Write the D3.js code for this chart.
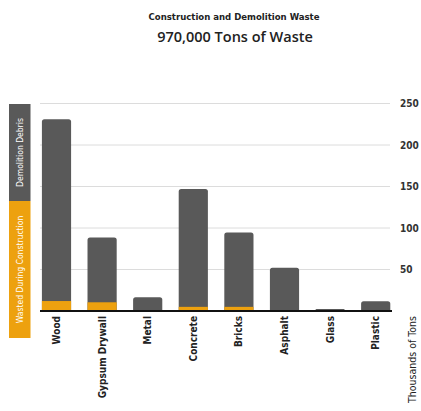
<!DOCTYPE html>
<html>
<head>
<meta charset="utf-8">
<script src="https://cdn.jsdelivr.net/npm/d3@7"></script>
<style>
body{margin:0;background:#fff;}
svg{display:block;font-family:"DejaVu Sans Condensed","Open Sans",sans-serif;}
</style>
</head>
<body>
<svg id="viz" width="421" height="411"></svg>
<script>
var categories = ["Wood","Gypsum Drywall","Metal","Concrete","Bricks","Asphalt","Glass","Plastic"];
var demolition = [219, 78, 16.5, 142, 89.5, 52, 2.5, 11.7];
var construction = [12, 10.5, 0, 5, 5, 0, 0, 0];
var ticks = [50, 100, 150, 200, 250];
var legendLabels = ["Demolition Debris","Wasted During Construction"];

var grey = "#595959", orange = "#eda10f";

var svg = d3.select("#viz");

var x = d3.scaleBand()
	.domain(categories)
	.range([33.7, 398.5])
	.paddingInner(0.36)
	.paddingOuter(0.18);
var y = d3.scaleLinear()
	.domain([0, 250])
	.range([311, 103.5]);

// titles
svg.append("text")
	.attr("x", 234).attr("y", 20)
	.attr("text-anchor", "middle")
	.attr("font-size", 9.5).attr("font-weight", "bold")
	.attr("fill", "#222")
	.text("Construction and Demolition Waste");
svg.append("text")
	.attr("x", 235).attr("y", 42)
	.attr("text-anchor", "middle")
	.attr("font-size", 14.5).attr("font-weight", 600)
	.attr("font-family", "'Open Sans',sans-serif")
	.attr("fill", "#222")
	.text("970,000 Tons of Waste");

// gridlines
svg.append("g")
	.selectAll("line")
	.data(ticks)
	.enter().append("line")
	.attr("x1", 40).attr("x2", 390)
	.attr("y1", function(d){ return y(d); })
	.attr("y2", function(d){ return y(d); })
	.attr("stroke", "#dcdcdc").attr("stroke-width", 1);
svg.append("g")
	.selectAll("text")
	.data(ticks)
	.enter().append("text")
	.attr("x", 400)
	.attr("y", function(d){ return y(d) + 3.5; })
	.attr("font-size", 10).attr("font-weight", "bold")
	.attr("fill", "#333")
	.text(function(d){ return d; });

// bars
var data = categories.map(function(c, i){
	return {cat: c, c: construction[i], total: construction[i] + demolition[i]};
});
var bars = svg.append("g").selectAll("g").data(data).enter().append("g");
bars.append("path")
	.attr("fill", grey)
	.attr("d", function(d){
		var x0 = x(d.cat), w = x.bandwidth(), top = y(d.total), bot = y(0);
		var r = Math.min(2.5, (bot - top) / 2);
		return "M" + x0 + "," + bot + "V" + (top + r) + "Q" + x0 + "," + top + " " + (x0 + r) + "," + top +
			"H" + (x0 + w - r) + "Q" + (x0 + w) + "," + top + " " + (x0 + w) + "," + (top + r) + "V" + bot + "Z";
	});
bars.filter(function(d){ return d.c > 0; }).append("rect")
	.attr("fill", orange)
	.attr("x", function(d){ return x(d.cat); })
	.attr("width", x.bandwidth())
	.attr("y", function(d){ return y(d.c); })
	.attr("height", function(d){ return y(0) - y(d.c); });

// baseline
svg.append("line")
	.attr("x1", 40).attr("x2", 392)
	.attr("y1", y(0)).attr("y2", y(0))
	.attr("stroke", "#111").attr("stroke-width", 2);

// category labels
svg.append("g")
	.selectAll("text")
	.data(categories)
	.enter().append("text")
	.attr("transform", function(d){ return "translate(" + (x(d) + x.bandwidth() / 2 + 3.5) + ",316) rotate(-90)"; })
	.attr("text-anchor", "end")
	.attr("font-size", 10).attr("font-weight", "bold")
	.attr("fill", "#222")
	.text(function(d){ return d; });

svg.append("text")
	.attr("transform", "translate(416,316) rotate(-90)")
	.attr("text-anchor", "end")
	.attr("font-size", 10.5)
	.attr("fill", "#222")
	.text("Thousands of Tons");

// legend
var legend = [
	{label: legendLabels[0], y0: 104, y1: 201, color: grey},
	{label: legendLabels[1], y0: 201, y1: 338, color: orange}
];
var lg = svg.append("g").selectAll("g").data(legend).enter().append("g");
lg.append("rect")
	.attr("x", 9).attr("width", 21.5)
	.attr("y", function(d){ return d.y0; })
	.attr("height", function(d){ return d.y1 - d.y0; })
	.attr("fill", function(d){ return d.color; });
lg.append("text")
	.attr("transform", function(d){ return "translate(22.5," + (d.y0 + d.y1) / 2 + ") rotate(-90)"; })
	.attr("text-anchor", "middle")
	.attr("font-size", 8.5)
	.attr("fill", "#fff")
	.text(function(d){ return d.label; });
</script>
</body>
</html>
